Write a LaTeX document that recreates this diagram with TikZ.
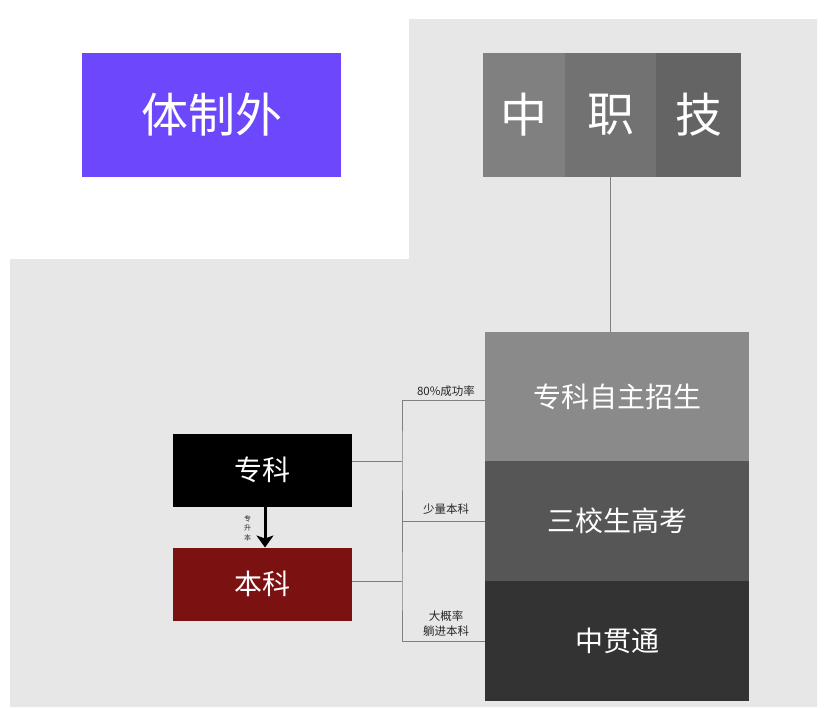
\documentclass[tikz,border=0pt]{standalone}
\usepackage{fontspec}
\setmainfont{Noto Sans CJK SC}
\usetikzlibrary{positioning,arrows.meta}

\definecolor{bgGray}{HTML}{E7E7E7}
\definecolor{outPurple}{HTML}{6C47FC}
\definecolor{segA}{HTML}{808080}
\definecolor{segB}{HTML}{727272}
\definecolor{segC}{HTML}{646464}
\definecolor{stackA}{HTML}{8A8A8A}
\definecolor{stackB}{HTML}{565656}
\definecolor{stackC}{HTML}{333333}
\definecolor{benRed}{HTML}{7C1111}
\definecolor{lineGray}{HTML}{7F7F7F}

\begin{document}
\begin{tikzpicture}[x=1pt, y=-1pt, node distance=0pt,
    box/.style={rectangle, inner sep=0pt, outer sep=0pt, text=white},
    bigtext/.style={font=\fontsize{47}{47}\selectfont},
    midtext/.style={font=\fontsize{28}{28}\selectfont},
    bracket/.style={draw=lineGray, line width=1pt},
    note/.style={font=\fontsize{11.5}{15}\selectfont, align=center, inner sep=1pt, text=black!85}]

        % background
        \useasboundingbox (0,0) rectangle (826,707);
        \fill[white] (0,0) rectangle (826,707);
        \fill[bgGray] (409,19) -- (817,19) -- (817,707) -- (10,707) -- (10,259) -- (409,259) -- cycle;

        \node (Outside) [box, bigtext, fill=outPurple, minimum width=259pt, minimum height=124pt] at (211.5,115) {体制外};

        \node (Zhong) [box, bigtext, fill=segA, minimum width=82pt, minimum height=124pt] at (524,115) {中};
        \node (Zhi) [box, bigtext, fill=segB, minimum width=91pt, minimum height=124pt, right=of Zhong] {职};
        \node (Ji) [box, bigtext, fill=segC, minimum width=85pt, minimum height=124pt, right=of Zhi] {技};

        \node (SelfEnroll) [box, midtext, fill=stackA, minimum width=264pt, minimum height=129pt] at (617,396.5) {专科自主招生};
        \node (Gaokao) [box, midtext, fill=stackB, minimum width=264pt, minimum height=120pt, below=of SelfEnroll] {三校生高考};
        \node (Guantong) [box, midtext, fill=stackC, minimum width=264pt, minimum height=120pt, below=of Gaokao] {中贯通};

        \node (Zhuanke) [box, midtext, fill=black, minimum width=179pt, minimum height=73pt] at (262,470) {专科};
        \node (Benke) [box, midtext, fill=benRed, minimum width=179pt, minimum height=73pt, below=41pt of Zhuanke] {本科};

        \coordinate (JoinZ) at (402,461);
        \coordinate (JoinB) at (402,581);

        \draw [draw=lineGray, line width=1.5pt] (Zhi.south) -- (Zhi.south |- SelfEnroll.north);
        \draw [line width=3pt, -{Stealth[length=12pt, width=17pt, inset=3pt]}] ([xshift=3pt]Zhuanke.south) -- ([xshift=3pt]Benke.north);
        \node (UpNote) [note, font=\fontsize{7}{9.5}\selectfont] at (247.5,528) {专\\升\\本};

        \draw [bracket] ([yshift=9pt]Zhuanke.east) -- (JoinZ);
        \draw [bracket] ([yshift=-4pt]SelfEnroll.west) -| (JoinZ) |- (Gaokao.west);
        \draw [bracket] ([yshift=3pt]Benke.east) -- (JoinB);
        \draw [bracket] (Gaokao.west) -| (JoinB) |- (Guantong.west);

        \node (RateNote) [note] at (446,391) {80\%成功率};
        \node (FewNote) [note] at (446,509) {少量本科};
        \node (LikelyNote) [note] at (446,624) {大概率\\躺进本科};
      \end{tikzpicture}
\end{document}
